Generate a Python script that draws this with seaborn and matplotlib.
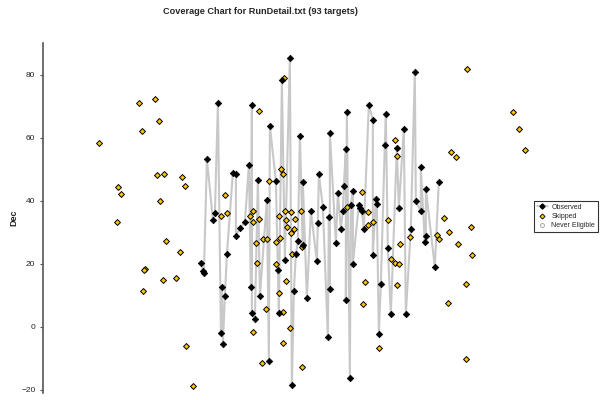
import matplotlib
matplotlib.use("Agg")
import matplotlib.pyplot as plt
from matplotlib.lines import Line2D
import seaborn as sns
import pandas as pd

# Observed targets, in observing order (RA plot units, Dec degrees)
ra_obs = [201, 203, 204, 207, 213, 215, 218, 221, 222, 223, 225, 227, 233, 236, 236,
          240, 245, 249, 251, 252, 252, 255, 258, 260, 267, 269, 270, 276, 278, 279,
          282, 285, 290, 292, 294, 296, 298, 300, 303, 303, 307, 311, 317, 318, 319,
          323, 328, 329, 330, 330, 336, 338, 341, 343, 344, 346, 346, 347, 350, 351,
          353, 353, 359, 360, 362, 364, 369, 373, 373, 376, 377, 379, 381, 385, 386,
          388, 391, 397, 399, 404, 406, 411, 415, 416, 421, 421, 425, 426, 426, 435, 439]
dec_obs = [20.3, 17.7, 17.1, 53.2, 33.9, 36.1, 70.9, -1.9, 12.7, -5.4, 9.8, 23.1, 48.8, 48.6, 28.9,
           31.3, 33.3, 51.3, 12.7, 70.3, 4.5, 2.4, 46.7, 9.8, 40.2, -10.7, 63.7, 46.3, 18.1, 4.3,
           78.3, 21.3, 85.2, -18.6, 11.5, 23.0, 27.3, 60.5, 25.9, 45.9, 9.1, 36.6, 20.9, 33.0, 48.5,
           37.9, -3.2, 34.8, 11.9, 61.5, 26.6, 42.3, 31.1, 36.7, 44.7, 56.3, 8.5, 68.1, -16.1, 38.7,
           43.0, 19.9, 38.7, 37.8, 36.6, 31.1, 70.4, 65.7, 22.9, 40.4, 38.9, -2.2, 13.5, 57.8, 67.6,
           25.0, 3.9, 56.7, 37.7, 62.7, 4.1, 31.0, 80.9, 39.9, 36.6, 50.6, 26.8, 28.8, 43.8, 19.0, 46.0]

# Skipped targets
ra_skip = [99, 139, 155, 159, 142, 118, 121, 157, 164, 182, 185, 160, 117, 225, 221,
           227, 166, 180, 145, 144, 163, 176, 143, 186, 193, 284, 259, 281, 283, 269,
           253, 250, 259, 253, 279, 285, 291, 295, 286, 301, 287, 294, 291, 256, 263,
           267, 276, 280, 257, 276, 286, 279, 266, 283, 253, 283, 262, 302, 290, 292,
           302, 395, 397, 451, 456, 362, 347, 368, 373, 368, 388, 444, 400, 410, 391,
           395, 399, 437, 439, 449, 458, 365, 397, 363, 448, 379, 467, 513, 519, 525,
           471, 472, 466, 466]
dec_skip = [58.2, 70.9, 72.2, 65.2, 62.0, 44.3, 42.1, 48.1, 48.4, 47.5, 44.6, 39.9, 33.2, 41.8, 35.1,
            36.1, 27.2, 23.7, 18.4, 18.0, 14.9, 15.5, 11.4, -6.0, -18.7, 78.8, 68.4, 50.1, 48.4, 46.1,
            36.7, 35.2, 34.1, 33.2, 35.0, 36.7, 36.5, 34.3, 33.9, 36.7, 31.5, 31.0, 29.6, 26.7, 27.8,
            27.7, 26.9, 28.0, 20.3, 20.0, 14.6, 10.8, 5.6, 4.8, -1.5, -5.2, -11.5, -12.6, -0.4, 23.2,
            25.4, 59.3, 54.1, 55.5, 53.8, 42.6, 37.9, 36.3, 33.3, 32.2, 33.8, 34.4, 26.3, 28.5, 21.5,
            20.2, 19.8, 29.0, 27.8, 30.2, 26.2, 14.2, 13.2, 7.3, 7.7, -6.6, 81.6, 68.0, 62.8, 56.0,
            31.7, 22.7, 13.5, -10.2]

n_targets = 93
yticks = [-20, 0, 20, 40, 60, 80]

obs = pd.DataFrame({"ra": ra_obs, "dec": dec_obs})
skip = pd.DataFrame({"ra": ra_skip, "dec": dec_skip})

sns.set_style("white")
plt.rcParams["font.family"] = ["Liberation Sans", "DejaVu Sans"]

fig = plt.figure(figsize=(6.08, 4.0), dpi=100)
ax = fig.add_axes([0.0707, 0.0175, 0.919, 0.875])

line_gray = "#c8c8c8"
gold = "#ffc400"

# Observed path
sns.lineplot(data=obs, x="ra", y="dec", sort=False, estimator=None,
             color=line_gray, linewidth=1.5, ax=ax, zorder=1)
# Skipped targets
sns.scatterplot(data=skip, x="ra", y="dec", marker="D", s=9, color=gold,
                edgecolor="black", linewidth=0.7, ax=ax, zorder=2)
# Observed targets
sns.scatterplot(data=obs, x="ra", y="dec", marker="D", s=11, color="black",
                edgecolor="black", linewidth=0.5, ax=ax, zorder=3)

ax.set_xlim(43, 602)
ax.set_ylim(-21, 90)
ax.set_yticks(yticks)
ax.set_xticks([])
ax.set_xlabel("")
ax.set_ylabel("Dec", fontsize=6.5, fontweight="bold", labelpad=2)
ax.tick_params(axis="y", labelsize=6, length=2.5, width=0.8, color="#555555",
               direction="out", left=True, pad=3, labelcolor="#222222")
for side in ["top", "right", "bottom"]:
    ax.spines[side].set_visible(False)
ax.spines["left"].set_color("#555555")
ax.spines["left"].set_linewidth(1.2)

fig.suptitle(f"Coverage Chart for RunDetail.txt ({n_targets} targets)",
             fontsize=6.6, fontweight="bold", x=260 / 608, y=0.982)

handles = [
    Line2D([0], [0], color=line_gray, lw=1.2, marker="D", markersize=2.6,
           markerfacecolor="black", markeredgecolor="black"),
    Line2D([0], [0], color="none", marker="D", markersize=2.6,
           markerfacecolor=gold, markeredgecolor="black", markeredgewidth=0.6),
    Line2D([0], [0], color="none", marker="o", markersize=2.8,
           markerfacecolor="white", markeredgecolor="#999999", markeredgewidth=0.6),
]
leg = fig.legend(handles, ["Observed", "Skipped", "Never Eligible"],
                 loc="center", bbox_to_anchor=(566 / 608, 1 - 216.5 / 400),
                 fontsize=5, frameon=True, fancybox=False, handlelength=1.6,
                 handletextpad=0.5, borderpad=0.35, labelspacing=0.35)
leg.get_frame().set_edgecolor("black")
leg.get_frame().set_linewidth(0.8)

fig.savefig("out.png", dpi=100)
